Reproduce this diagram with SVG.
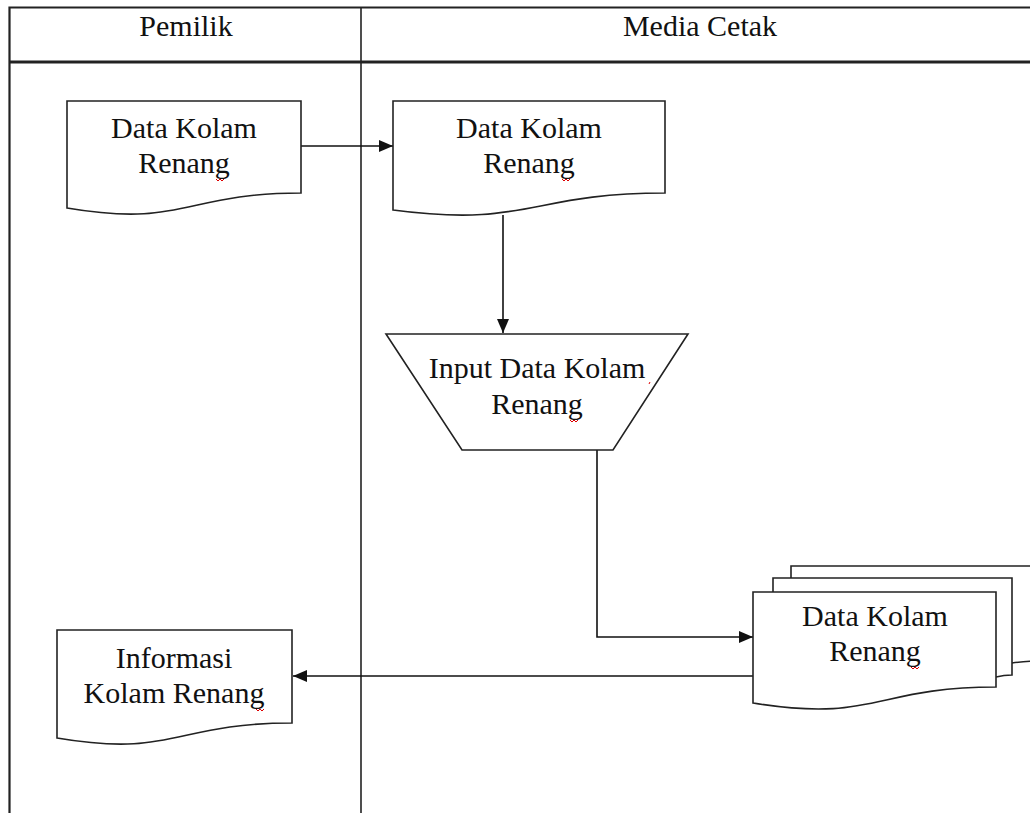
<svg xmlns="http://www.w3.org/2000/svg" width="1030" height="813" viewBox="0 0 1030 813">
<style>
.t{font-family:"Liberation Serif","Times New Roman",serif;font-size:30px;fill:#111;text-anchor:middle}
.s{fill:#fff;stroke:#222;stroke-width:1.6}
.c{fill:none;stroke:#111;stroke-width:1.6}
.f{fill:none;stroke:#222}
.sq{fill:none;stroke:#d00;stroke-width:1}
</style>
<defs>
<marker id="a" viewBox="0 0 14 12" refX="14" refY="6" markerWidth="14" markerHeight="12" markerUnits="userSpaceOnUse" orient="auto">
<path d="M0,0 L14,6 L0,12 Z" fill="#111"/>
</marker>
</defs>
<rect width="1030" height="813" fill="#fff"/>
<g id="frame">
<path class="f" stroke-width="2.2" d="M9.5,813 V7.5 H1030"/>
<path class="f" stroke-width="3" d="M9.5,62 H1030"/>
<path class="f" stroke-width="1.6" d="M361,7.5 V813"/>
<text class="t" x="186" y="36">Pemilik</text>
<text class="t" x="700" y="36">Media Cetak</text>
</g>
<g id="connectors">
<path class="c" d="M301,146 H393" marker-end="url(#a)"/>
<path class="c" d="M503,215 V333" marker-end="url(#a)"/>
<path class="c" d="M597,450 V637 H753" marker-end="url(#a)"/>
<path class="c" d="M753,676 H293" marker-end="url(#a)"/>
</g>
<g id="doc-pemilik">
<path class="s" d="M67,101 H301 V193 C184,193 184,228 67,208 Z"/>
<text class="t" x="184" y="138">Data Kolam</text>
<text class="t" x="184" y="173">Renang</text>
<path class="sq" d="M216,179 l2,2 l2,-2 l2,2 l2,-2"/>
</g>
<g id="doc-media">
<path class="s" d="M393,101 H665 V193 C529,193 529,228 393,210 Z"/>
<text class="t" x="529" y="138">Data Kolam</text>
<text class="t" x="529" y="173">Renang</text>
<path class="sq" d="M562,179 l2,2 l2,-2 l2,2 l2,-2"/>
</g>
<g id="input">
<path class="s" d="M386,334 H688 L613,450 H462 Z"/>
<text class="t" x="537" y="378">Input Data Kolam</text>
<text class="t" x="537" y="414">Renang</text>
<path class="sq" d="M570,420 l2,2 l2,-2 l2,2 l2,-2"/>
<path class="sq" d="M649,384 l1,-2"/>
</g>
<g id="multidoc">
<path class="s" d="M791,578 V566 H1040 V661 C1030,661 1020,662 1012,663"/>
<path class="s" d="M773,592 V578 H1012 V675 C1005,675 1000,676 996,677"/>
<path class="s" d="M753,592 H996 V687 C875,687 875,723 753,703 Z"/>
<text class="t" x="875" y="626">Data Kolam</text>
<text class="t" x="875" y="661">Renang</text>
<path class="sq" d="M911,667 l2,2 l2,-2 l2,2 l2,-2"/>
</g>
<g id="informasi">
<path class="s" d="M57,630 H292 V723 C174,723 174,758 57,738 Z"/>
<text class="t" x="174" y="668">Informasi</text>
<text class="t" x="174" y="703">Kolam Renang</text>
<path class="sq" d="M256,709 l2,2 l2,-2 l2,2 l2,-2"/>
</g>
</svg>
